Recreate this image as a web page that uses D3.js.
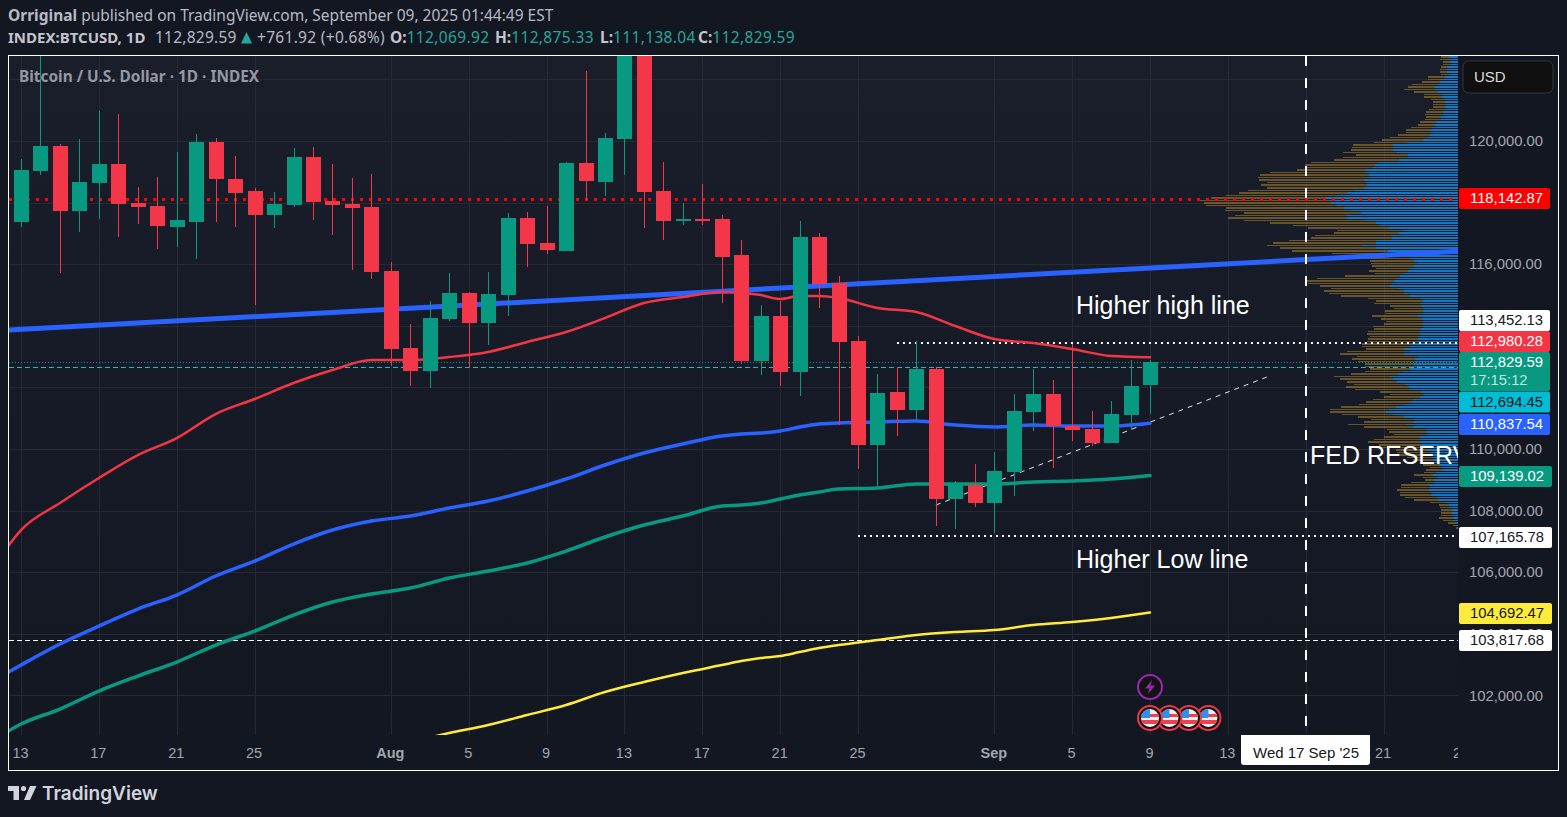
<!DOCTYPE html>
<html>
<head>
<meta charset="utf-8">
<script src="https://cdnjs.cloudflare.com/ajax/libs/d3/7.8.5/d3.min.js"></script>
<style>
html, body { margin: 0; padding: 0; background: #131722; overflow: hidden; }
svg { display: block; }
text { font-family: "Liberation Sans", Arial, sans-serif; }
.head text, .head tspan { font-family: "Noto Sans", sans-serif; }
</style>
</head>
<body>
<div id="chart"></div>
<script>
// daily candles, first one is 13 Jul 2025
var opens = [117370,119026,119838,117727,118636,119253,117987,117889,117208,117370,119968,118766,118377,117597,117922,119480,118052,117954,117857,
  115779,113279,112532,114220,115065,114090,115000,117500,116688,116428,119286,118669,120065,123279,118377,117402,117467,117467,116298,112857,114318,112499,116883,115389,113506,110129,111850,111266,112597,108376,108830,
  108246,109253,111201,111785,110746,110649,110194,111103,112069.92]
var closes = [119058,119838,117727,118669,119253,117954,117857,117240,117435,119968,118766,118312,117597,117954,119480,118019,117922,117824,115746,
  113246,112532,114253,115065,114090,115032,117500,116656,116461,119286,118701,120097,123279,118344,117402,117467,117435,116233,112857,114318,112499,116883,115357,113474,110129,111818,111266,112597,108376,108863,108246,
  109285,111233,111785,110746,110616,110194,111136,112045,112829.59]
var highs = [119416,122955,119903,120065,120974,120877,118506,118831,119643,120227,120097,119513,118474,118344,119773,119805,119253,118799,118928,
  116071,114058,114805,115714,115097,115746,117662,117695,117889,119318,122273,120260,123600,124450,119318,117987,118604,117597,116785,114675,114805,117402,117013,115617,113668,112435,112662,113506,112662,108960,109512,
  109902,111785,112597,112240,113409,111233,111558,112889,112875.33]
var lows = [117208,118896,115714,117045,117467,116883,117305,116493,116558,116169,117370,117208,114675,117175,117857,117435,116948,115811,115519,
  112694,112045,111980,114155,112629,113376,114318,115909,116331,116428,118084,118214,118896,117175,116785,117272,117272,114740,112759,112402,112045,111720,114577,110778,109350,108798,110421,110908,107499,107402,108116,
  107272,108473,110584,109382,110259,110097,110194,110616,111138.04]

var maDays = [-1,0,2,4,6,8,10,12,14,16,18,20,22,24,26,28,30,32,34,36,37,38,39,40,41,42,44,46,48,50,52,54,56,58]
var maRed = [106557,107369,108246,109058,109804,110356,111136,111623,112142,112564,112889,112889,112986,113149,113474,113798,114253,114740,114935,115097,115065,115000,114870,114967,114967,114902,114578,114448,113993,113571,113441,113246,113019,112980.28]
var maBlue = [102629,102986,103668,104252,104804,105259,105876,106363,106915,107369,107661,107824,108084,108311,108635,109025,109480,109869,110162,110421,110486,110519,110584,110714,110811,110843,110876,110908,110779,110714,110779,110746,110746,110837.54]
var maGreen = [100713,101070,101557,102141,102629,103083,103635,104090,104609,105031,105291,105486,105811,106038,106298,106687,107142,107532,107824,108148,108181,108246,108376,108506,108603,108700,108733,108863,108863,108863,108928,108960,109025,109139.02]
var maYellow = [null,null,null,null,null,null,null,null,null,null,null,100486,100778,101038,101362,101687,102109,102434,102726,102986,103116,103213,103278,103408,103538,103635,103797,103960,104057,104122,104285,104382,104512,104692.47]

// drawn trend lines: [day offset, price]
var longTrend = [[-1,113850],[75,116460]]
var riseTrend = [[47,108181],[64,112337]]

// volume profile rows, top row first
var vpTopPrice = 122760
var vpRowStep = 81.8
var vpSell = [25,28,21,20,18,21,21,24,51,39,54,78,81,93,72,54,54,42,36,36,36,48,51,54,45,45,48,51,63,75,72,96,114,123,99,120,120,126,162,156,195,195,201,210,204,207,285,327,333,315,297,318,291,321,324,333,342,393,381,393,354,381,351,333,
  357,363,318,261,240,198,195,228,243,261,309,285,288,288,204,180,138,132,138,126,102,117,87,165,237,267,252,210,201,240,225,204,159,141,138,96,87,114,114,138,123,111,117,147,141,153,159,144,150,150,147,144,114,189,192,183,189,168,147,144,120,114,141,168,
  159,150,153,189,162,123,102,108,123,135,135,165,177,168,156,138,129,150,174,147,117,111,99,108,135,156,126,126,92,100,90,75,60,45,48,36,48,36,57,45,27,69,84,84,96,93,93,96,72,45,30,27,33,33,33,42,30,28,13,4]
var vpBuy = [26,26,24,24,33,33,33,27,39,51,54,60,69,69,60,48,48,39,39,39,39,39,45,45,51,54,66,69,78,81,84,84,90,105,153,195,198,195,183,150,150,177,240,249,255,276,279,267,267,282,276,273,282,309,333,363,399,381,381,363,342,318,291,336,
  333,279,246,234,210,165,177,201,198,246,246,288,246,210,174,144,147,132,123,132,144,150,162,174,186,192,198,204,180,162,162,147,111,105,114,108,105,105,105,120,108,105,105,108,111,117,114,120,120,123,141,144,162,144,162,120,129,132,132,135,144,165,180,204,
  195,183,159,147,147,111,102,114,132,141,162,186,207,216,192,162,132,132,156,135,96,96,93,114,117,114,111,111,94,84,84,79,74,69,57,48,48,66,75,60,72,72,87,87,87,81,81,63,60,39,27,27,18,18,18,15,15,2,2,2]

// level lines and price tags
var gridPrices = [122000,120000,118000,116000,114000,112000,110000,108000,106000,104000,102000]
var priceLabels = [120000,116000,110000,108000,106000,104000,102000]
var levelRed = 118142.87, levelHigh = 113452.13, levelLast = 112829.59, levelCyan = 112694.45, levelLow = 107165.78, levelDash = 103817.68
var tagValues = [118142.87,113452.13,112980.28,112829.59,112694.45,110837.54,109139.02,107165.78,104692.47,103817.68]
var tagFills = ["#ff0000","#ffffff","#f23645","#089981","#00bcd4","#2962ff","#089981","#ffffff","#ffeb3b","#ffffff"]
var tagInks = ["#ffffff","#131722","#ffffff","#ffffff","#131722","#ffffff","#ffffff","#131722","#131722","#131722"]
var countdown = "17:15:12"

// time axis
var gridDays = ["2025-07-13","2025-07-17","2025-07-21","2025-07-25","2025-08-01","2025-08-05","2025-08-09","2025-08-13","2025-08-17","2025-08-21","2025-08-25","2025-09-01","2025-09-05","2025-09-09","2025-09-13","2025-09-17","2025-09-21","2025-09-25"]
var fedDay = "2025-09-17"
var headO = "112,069.92", headH = "112,875.33", headL = "111,138.04", headC = "112,829.59"

var W = 1567, H = 817
var paneL = 9, paneR = 1458, paneT = 56, paneB = 735

var svg = d3.select("#chart").append("svg").attr("width",W).attr("height",H)
var defs = svg.append("defs")

var grad = defs.append("linearGradient").attr("id","paneBg").attr("x1",0).attr("y1",0).attr("x2",0).attr("y2",1)
grad.append("stop").attr("offset","0%").attr("stop-color","#1a1e2b")
grad.append("stop").attr("offset","100%").attr("stop-color","#131722")

defs.append("clipPath").attr("id","paneClip").append("rect")
  .attr("x",paneL).attr("y",paneT).attr("width",paneR-paneL).attr("height",paneB-paneT)
defs.append("clipPath").attr("id","timeClip").append("rect")
  .attr("x",paneL).attr("y",paneB).attr("width",paneR-paneL).attr("height",35)

var start = new Date(Date.UTC(2025,6,13))
function dayDate(i){ return d3.utcDay.offset(start,i) }

var x = d3.scaleUtc().domain([start,dayDate(58)]).range([21,1150])
var y = d3.scaleLinear().domain([102000,120000]).range([695.4,141])
var vpWidth = d3.scaleLinear().domain([0,774]).range([0,258])

svg.append("rect").attr("x",paneL).attr("y",paneT).attr("width",paneR-paneL).attr("height",paneB-paneT).attr("fill","url(#paneBg)")

var pane = svg.append("g").attr("clip-path","url(#paneClip)")

// grid
var gridCol = "#262a35"
pane.append("g").selectAll("line").data(gridPrices).enter().append("line")
  .attr("x1",paneL).attr("x2",paneR)
  .attr("y1",function(d){ return Math.round(y(d))+0.5 }).attr("y2",function(d){ return Math.round(y(d))+0.5 })
  .attr("stroke",gridCol)
pane.append("g").selectAll("line").data(gridDays).enter().append("line")
  .attr("y1",paneT).attr("y2",paneB)
  .attr("x1",function(d){ return Math.round(x(new Date(d)))+0.5 }).attr("x2",function(d){ return Math.round(x(new Date(d)))+0.5 })
  .attr("stroke",gridCol)

var trendLine = d3.line().x(function(d){ return x(dayDate(d[0])) }).y(function(d){ return y(d[1]) })

// volume profile
var vp = pane.append("g").attr("shape-rendering","crispEdges")
function rowTop(i){ return Math.round(y(vpTopPrice-i*vpRowStep)) }
vp.selectAll("rect.sell").data(vpSell).enter().append("rect").attr("class","sell")
  .attr("x",function(d,i){ return paneR-vpWidth(vpBuy[i])-vpWidth(d) })
  .attr("y",function(d,i){ return rowTop(i) })
  .attr("width",function(d){ return vpWidth(d) })
  .attr("height",function(d,i){ return rowTop(i+1)-rowTop(i)-1 })
  .attr("fill","#9f7b29").attr("fill-opacity",0.6)
vp.selectAll("rect.buy").data(vpBuy).enter().append("rect").attr("class","buy")
  .attr("x",function(d){ return paneR-vpWidth(d) })
  .attr("y",function(d,i){ return rowTop(i) })
  .attr("width",function(d){ return vpWidth(d) })
  .attr("height",function(d,i){ return rowTop(i+1)-rowTop(i)-1 })
  .attr("fill","#1397f7").attr("fill-opacity",0.75)

// long blue trend line
pane.append("path").attr("d",trendLine(longTrend)).attr("fill","none").attr("stroke","#2962ff").attr("stroke-width",5)

// horizontal levels, thin and wide lines snap to the pixel grid differently
function level(price,xFrom,color,width,dash){
  var ly = width%2==0 ? Math.round(y(price)) : Math.floor(y(price))+1.5
  pane.append("line").attr("x1",xFrom).attr("x2",paneR)
    .attr("y1",ly).attr("y2",ly)
    .attr("stroke",color).attr("stroke-width",width).attr("stroke-dasharray",dash)
}
level(levelRed,9,"#ff0000",3,"3 6")
level(levelHigh,x(dayDate(45)),"#ffffff",2,"2 4")
level(levelLow,x(dayDate(43)),"#ffffff",2,"2 4")
level(levelLast,paneL,"#089981",1,"1 2")
level(levelCyan,paneL,"#22b8cf",1,"5 3")
level(levelDash,paneL,"#ffffff",1,"5 3")

// fed meeting marker
var fedX = Math.round(x(new Date(fedDay)))
pane.append("line").attr("x1",fedX).attr("x2",fedX).attr("y1",paneT).attr("y2",paneB)
  .attr("stroke","#ffffff").attr("stroke-width",2).attr("stroke-dasharray","10 12")

pane.append("path").attr("d",trendLine(riseTrend)).attr("fill","none").attr("stroke","#e8e8e8").attr("stroke-width",1).attr("stroke-dasharray","5 5")

// moving averages
var maLine = d3.line().defined(function(d){ return d[1]!=null }).curve(d3.curveMonotoneX)
  .x(function(d){ return x(dayDate(d[0])) }).y(function(d){ return y(d[1]) })
function drawMa(values,color,width){
  pane.append("path").attr("d",maLine(values.map(function(v,i){ return [maDays[i],v] })))
    .attr("fill","none").attr("stroke",color).attr("stroke-width",width).attr("stroke-linecap","round")
}
drawMa(maYellow,"#ffeb3b",2.5)
drawMa(maGreen,"#089981",3.5)
drawMa(maBlue,"#2962ff",3.5)
drawMa(maRed,"#f23645",2.5)

// candles
var up = "#089981", down = "#f43649"
var candle = pane.append("g").attr("shape-rendering","crispEdges").selectAll("g").data(opens).enter().append("g")
candle.append("rect")
  .attr("x",function(d,i){ return Math.round(x(dayDate(i))) })
  .attr("y",function(d,i){ return y(highs[i]) })
  .attr("width",1)
  .attr("height",function(d,i){ return y(lows[i])-y(highs[i]) })
  .attr("fill",function(d,i){ return closes[i]>=d ? up : down })
candle.append("rect")
  .attr("x",function(d,i){ return Math.round(x(dayDate(i)))-7 })
  .attr("y",function(d,i){ return y(Math.max(d,closes[i])) })
  .attr("width",15)
  .attr("height",function(d,i){ return Math.max(2,Math.abs(y(d)-y(closes[i]))) })
  .attr("fill",function(d,i){ return closes[i]>=d ? up : down })

// notes on the chart
pane.append("text").attr("x",19).attr("y",82).attr("font-size",15.4).attr("font-weight",700)
  .style("font-family","'Noto Sans', sans-serif").attr("fill","#9598a1").text("Bitcoin / U.S. Dollar · 1D · INDEX")
var noteFont = 25
pane.append("text").attr("x",1076).attr("y",314).attr("font-size",noteFont).attr("fill","#ffffff").text("Higher high line")
pane.append("text").attr("x",1076).attr("y",568).attr("font-size",noteFont).attr("fill","#ffffff").text("Higher Low line")
pane.append("text").attr("x",1310).attr("y",464).attr("font-size",noteFont).attr("fill","#ffffff").text("FED RESERVE")

// event icons
var iconX = x(dayDate(58))
var icons = svg.append("g")
icons.append("circle").attr("cx",iconX).attr("cy",687).attr("r",12).attr("fill","#131313").attr("stroke","#9c27b0").attr("stroke-width",2)
icons.append("path").attr("transform","translate("+iconX+",687)").attr("d","M2,-7 L-5,1.5 L-0.5,1.5 L-2,7 L5,-1.5 L0.5,-1.5 Z").attr("fill","#9c27b0")

;[3,2,1,0].forEach(function(k){
  var cx = iconX+k*19.47, cy = 718
  var id = "flag"+k
  defs.append("clipPath").attr("id",id).append("circle").attr("cx",cx).attr("cy",cy).attr("r",9)
  icons.append("circle").attr("cx",cx).attr("cy",cy).attr("r",12).attr("fill","#131313").attr("stroke","#f23645").attr("stroke-width",2)
  var f = icons.append("g").attr("clip-path","url(#"+id+")")
  f.append("rect").attr("x",cx-10).attr("y",cy-10).attr("width",20).attr("height",20).attr("fill","#f0f0f0")
  f.append("rect").attr("x",cx-10).attr("y",cy-4).attr("width",20).attr("height",3).attr("fill","#f0404f")
  f.append("rect").attr("x",cx-10).attr("y",cy+2).attr("width",20).attr("height",4).attr("fill","#f0404f")
  f.append("rect").attr("x",cx-10).attr("y",cy-10).attr("width",10).attr("height",10).attr("fill","#2f8ff0")
})

// time axis, the 17 Sep label is replaced by the white date box
var timeG = svg.append("g").attr("clip-path","url(#timeClip)")
var timeAxis = d3.axisBottom(x)
  .tickValues(gridDays.filter(function(d){ return d!=fedDay }).map(function(d){ return new Date(d) }))
  .tickSize(0).tickPadding(0)
  .tickFormat(function(d){
    if(d.getUTCDate()==1) return d3.utcFormat("%b")(d)
    return d3.utcFormat("%-d")(d)
  })
var timeAx = timeG.append("g").attr("transform","translate(-1,748)").call(timeAxis)
timeAx.select(".domain").remove()
timeAx.selectAll("text").attr("fill","#a3a6af").attr("font-size",14.5)
  .attr("font-family","'Liberation Sans', Arial, sans-serif")
  .attr("font-weight",function(d){ return d.getUTCDate()==1 ? 700 : 400 })

svg.append("path").attr("d","M1241,735 H1370 V762 a3,3 0 0 1 -3,3 H1244 a3,3 0 0 1 -3,-3 Z").attr("fill","#ffffff")
svg.append("text").attr("x",fedX).attr("y",758).attr("text-anchor","middle").attr("font-size",15).attr("fill","#131722")
  .text(d3.utcFormat("%a %-d %b '%y")(new Date(fedDay)))

// price axis
var priceAxis = d3.axisRight(y).tickValues(priceLabels).tickSize(0).tickPadding(0).tickFormat(d3.format(",.2f"))
var priceAx = svg.append("g").attr("transform","translate(1469,0)").call(priceAxis)
priceAx.select(".domain").remove()
priceAx.selectAll("text").attr("fill","#a3a6af").attr("font-size",14.8)
  .attr("font-family","'Liberation Sans', Arial, sans-serif")

// price tags, pushed apart where they would overlap
var tagTops = [188,310,331,352,391.5,414,466,527,603,630]
var tagRight = [1550,1550,1550,1550,1550,1550,1552,1552,1552,1552]
var tags = svg.append("g").selectAll("g").data(tagValues).enter().append("g")
tags.append("rect").attr("x",1459).attr("y",function(d,i){ return tagTops[i] })
  .attr("width",function(d,i){ return tagRight[i]-1459 })
  .attr("height",function(d,i){ return i==3 ? 39 : 21 }).attr("rx",2)
  .attr("fill",function(d,i){ return tagFills[i] })
tags.append("text").attr("x",1470).attr("y",function(d,i){ return tagTops[i]+15 })
  .attr("font-size",14.8).attr("fill",function(d,i){ return tagInks[i] })
  .text(function(d){ return d3.format(",.2f")(d) })
svg.append("text").attr("x",1470).attr("y",385).attr("font-size",14.8).attr("fill","#ffffff").attr("fill-opacity",0.75).text(countdown)

// currency button
svg.append("rect").attr("x",1463).attr("y",61).attr("width",90).attr("height",32).attr("rx",6).attr("fill","#0f0f0f").attr("stroke","#333640")
svg.append("text").attr("x",1474).attr("y",82).attr("font-size",15).attr("fill","#dbdbdb").text("USD")

// frame
svg.append("rect").attr("x",8.5).attr("y",55.5).attr("width",1550).attr("height",715).attr("fill","none").attr("stroke","#ffffff")

// header
var head = svg.append("g").attr("class","head").attr("font-size",15.5)
var l1 = head.append("text").attr("x",8).attr("y",21).attr("fill","#b8bac3")
l1.append("tspan").attr("font-weight",700).text("Orriginal")
l1.append("tspan").text(" published on TradingView.com, September 09, 2025 01:44:49 EST")

head.append("text").attr("x",8).attr("y",43).attr("font-weight",700).attr("font-size",15).attr("fill","#c3c5cd").text("INDEX:BTCUSD, 1D")
head.append("text").attr("x",155).attr("y",43).attr("fill","#b8bac3").attr("letter-spacing",0.25).text(headC)
head.append("path").attr("d","M241,43.5 L246.5,32 L252,43.5 Z").attr("fill","#26a69a")
head.append("text").attr("x",257).attr("y",43).attr("fill","#b8bac3").attr("letter-spacing",0.3).text("+761.92 (+0.68%)")

var ohlcLabels = ["O:","H:","L:","C:"]
var ohlcValues = [headO,headH,headL,headC]
var ohlcX = [390,495,600,698]
ohlcLabels.forEach(function(t,i){
  var tx = head.append("text").attr("x",ohlcX[i]).attr("y",43)
  tx.append("tspan").attr("font-weight",700).attr("fill","#c3c5cd").text(t)
  tx.append("tspan").attr("fill","#26a69a").attr("letter-spacing",0.35).text(ohlcValues[i])
})

// logo
var logo = svg.append("g").attr("fill","#d1d4dc")
logo.append("path").attr("d","M8,786 H19 V800 H13.5 V791 H8 Z")
logo.append("circle").attr("cx",23.5).attr("cy",788.5).attr("r",2.6)
logo.append("path").attr("d","M30,786 H36.5 L30,800 H24 Z")
logo.append("text").attr("x",42).attr("y",800).attr("font-size",19).attr("font-weight",600).style("font-family","Inter, sans-serif").text("TradingView")
</script>
</body>
</html>
